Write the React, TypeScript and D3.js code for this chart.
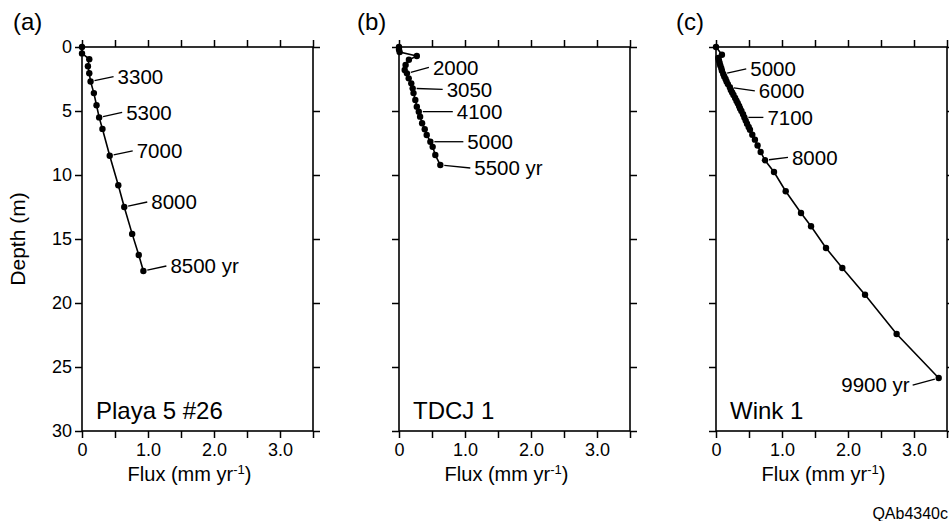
import React, { useEffect, useRef } from "react";
import * as d3 from "d3";

// (a) Playa 5 #26
const playaFlux = [0, 0, 0.11, 0.09, 0.11, 0.13, 0.18, 0.22, 0.26, 0.31, 0.42, 0.55, 0.64, 0.76, 0.86, 0.93];
const playaDepth = [0, 0.5, 0.95, 1.5, 2.05, 2.7, 3.6, 4.55, 5.5, 6.4, 8.5, 10.8, 12.5, 14.6, 16.25, 17.5];
const playaAges = ["3300", "5300", "7000", "8000", "8500 yr"];
const playaAgeAt = [5, 8, 10, 12, 15];

// (b) TDCJ 1
const tdcjFlux = [0, 0, 0.01, 0.27, 0.15, 0.1, 0.086, 0.12, 0.147, 0.186, 0.207, 0.22, 0.247, 0.27, 0.3, 0.32, 0.35, 0.39, 0.42, 0.475, 0.51, 0.55, 0.626];
const tdcjDepth = [0, 0.2, 0.4, 0.7, 1.0, 1.4, 1.8, 2.06, 2.45, 2.84, 3.23, 3.6, 4.14, 4.66, 5.05, 5.44, 5.96, 6.43, 6.87, 7.4, 7.8, 8.44, 9.22];
const tdcjAges = ["2000", "3050", "4100", "5000", "5500 yr"];
const tdcjAgeAt = [7, 10, 14, 19, 22];

// (c) Wink 1
const winkFlux = [0, 0.09, 0.035, 0.045, 0.055, 0.065, 0.08, 0.09, 0.11, 0.125, 0.145, 0.16, 0.18, 0.21, 0.225, 0.245, 0.265, 0.29, 0.31, 0.33, 0.35, 0.365, 0.385, 0.41, 0.43, 0.45, 0.47, 0.495, 0.515, 0.55, 0.59, 0.63, 0.677, 0.742, 0.879, 1.056, 1.288, 1.44, 1.667, 1.914, 2.258, 2.737, 3.374];
const winkDepth = [0, 0.6, 0.85, 1.05, 1.25, 1.45, 1.65, 1.85, 2.1, 2.3, 2.5, 2.7, 2.9, 3.15, 3.35, 3.55, 3.75, 3.98, 4.2, 4.4, 4.6, 4.8, 5.0, 5.25, 5.5, 5.75, 6.0, 6.25, 6.46, 6.85, 7.24, 7.7, 8.2, 8.85, 9.77, 11.27, 12.97, 14.0, 15.7, 17.27, 19.35, 22.42, 25.86];
const winkAges = ["5000", "6000", "7100", "8000", "9900 yr"];
const winkAgeAt = [8, 13, 24, 33, 42];

const siteNames = ["Playa 5 #26", "TDCJ 1", "Wink 1"];
const panelLetters = ["(a)", "(b)", "(c)"];
const fluxTicks = [0, 0.5, 1, 1.5, 2, 2.5, 3, 3.5];
const depthTicks = [0, 5, 10, 15, 20, 25, 30];

// layout
const W = 949, H = 521;
const panelLeft = [82, 399, 716];
const panelW = 231;
const top = 47, bottom = 431;
const letterX = [13, 357, 676];
// leader end offsets (px) from the dated point
const leaderOffsets = [
  [[23, -5], [23, -5], [23, -5], [23, -5], [23, -5]],
  [[22, -6], [30, 1], [34, 0], [33, 0], [30, 3]],
  [[23, -5], [25, 3.5], [19, 0], [23, -3], [-26, 7]],
];

const FONT = "'Liberation Sans', Arial, Helvetica, sans-serif";

export default function App() {
  const ref = useRef<SVGSVGElement | null>(null);

  useEffect(() => {
    const svg = d3.select(ref.current);
    svg.selectAll("*").remove();

    const panels = [
      { flux: playaFlux, depth: playaDepth, ages: playaAges, at: playaAgeAt },
      { flux: tdcjFlux, depth: tdcjDepth, ages: tdcjAges, at: tdcjAgeAt },
      { flux: winkFlux, depth: winkDepth, ages: winkAges, at: winkAgeAt },
    ];

    const yScale = d3.scaleLinear().domain([0, 30]).range([top, bottom]);

    panels.forEach((p, i) => {
      const x0 = panelLeft[i];
      const xScale = d3.scaleLinear().domain([0, 3.5]).range([x0, x0 + panelW]);
      const g = svg.append("g");

      // frame
      g.append("rect")
        .attr("x", x0).attr("y", top)
        .attr("width", panelW).attr("height", bottom - top)
        .attr("fill", "none").attr("stroke", "#000").attr("stroke-width", 1.6);

      const fmtFlux = (d: any) => (d === 0 ? "0" : Number.isInteger(d) ? d3.format(".1f")(d) : "");

      const axes = [
        { ax: d3.axisTop(xScale).tickValues(fluxTicks).tickFormat(() => ""), t: `translate(0,${top})` },
        { ax: d3.axisBottom(xScale).tickValues(fluxTicks).tickFormat(fmtFlux).tickPadding(5), t: `translate(0,${bottom})` },
        { ax: d3.axisLeft(yScale).tickValues(depthTicks).tickFormat(i === 0 ? (d3.format("d") as any) : () => "").tickPadding(3), t: `translate(${x0},0)` },
        { ax: d3.axisRight(yScale).tickValues(depthTicks).tickFormat(() => ""), t: `translate(${x0 + panelW},0)` },
      ];
      axes.forEach(({ ax, t }) => {
        const a = g.append("g").attr("transform", t).call(ax.tickSize(7).tickSizeOuter(0) as any);
        a.select(".domain").remove();
        a.selectAll("line").attr("stroke", "#000").attr("stroke-width", 1.5);
        a.selectAll("text").attr("font-family", FONT).attr("font-size", 18).attr("fill", "#000");
      });

      // profile
      const pts = p.flux.map((f, k) => [xScale(f), yScale(p.depth[k])] as [number, number]);
      g.append("path")
        .attr("d", d3.line()(pts))
        .attr("fill", "none").attr("stroke", "#000").attr("stroke-width", 1.6);
      g.selectAll("circle.pt").data(pts).join("circle")
        .attr("class", "pt")
        .attr("cx", d => d[0]).attr("cy", d => d[1]).attr("r", 3.2).attr("fill", "#000");

      // age labels with leaders
      p.ages.forEach((txt, j) => {
        const [px, py] = pts[p.at[j]];
        const [dx, dy] = leaderOffsets[i][j];
        const len = Math.hypot(dx, dy);
        const ex = px + dx, ey = py + dy;
        g.append("line")
          .attr("x1", px + (dx / len) * 4).attr("y1", py + (dy / len) * 4)
          .attr("x2", ex).attr("y2", ey)
          .attr("stroke", "#000").attr("stroke-width", 1.3);
        const right = dx < 0;
        g.append("text")
          .attr("x", right ? ex - 3 : ex + 4).attr("y", ey).attr("dy", "0.36em")
          .attr("text-anchor", right ? "end" : "start")
          .attr("font-family", FONT).attr("font-size", 20.5).attr("fill", "#000")
          .text(txt);
      });

      // site name
      g.append("text")
        .attr("x", x0 + 14).attr("y", 419)
        .attr("font-family", FONT).attr("font-size", 24).attr("fill", "#000")
        .text(siteNames[i]);

      // panel letter
      g.append("text")
        .attr("x", letterX[i]).attr("y", 30)
        .attr("font-family", FONT).attr("font-size", 24).attr("fill", "#000")
        .text(panelLetters[i]);

      // x axis title
      const xt = g.append("text")
        .attr("x", x0 + panelW / 2 - 8).attr("y", 481)
        .attr("text-anchor", "middle")
        .attr("font-family", FONT).attr("font-size", 20).attr("fill", "#000");
      xt.append("tspan").text("Flux (mm yr");
      xt.append("tspan").attr("dy", -7).attr("font-size", 13).text("-1");
      xt.append("tspan").attr("dy", 7).text(")");
    });

    // y axis title
    svg.append("text")
      .attr("transform", `translate(25,${(top + bottom) / 2}) rotate(-90)`)
      .attr("text-anchor", "middle")
      .attr("font-family", FONT).attr("font-size", 21).attr("fill", "#000")
      .text("Depth (m)");

    svg.append("text")
      .attr("x", 948).attr("y", 519)
      .attr("text-anchor", "end")
      .attr("font-family", FONT).attr("font-size", 16).attr("fill", "#000")
      .text("QAb4340c");
  }, []);

  return (
    <svg
      ref={ref}
      width={W}
      height={H}
      style={{ position: "absolute", left: 0, top: 0, background: "#fff" }}
    />
  );
}
